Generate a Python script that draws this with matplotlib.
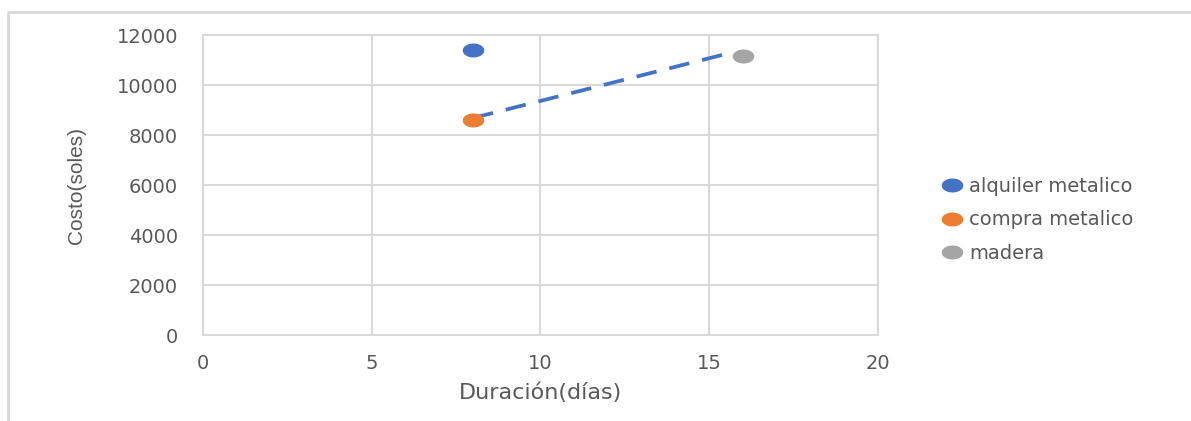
import matplotlib.pyplot as plt
from matplotlib.path import Path
from matplotlib.lines import Line2D
import numpy as np

# cost vs duration for each formwork option
series = ["alquiler metalico", "compra metalico", "madera"]
dias = [8, 8, 16]
costo = [11400, 8620, 11190]
colores = ["#4472C4", "#ED7D31", "#A5A5A5"]

# dashed line drawn between the purchase and wood options
linea_x = [8, 15.7]
linea_y = [8700, 11330]

# wide ellipse marker
t = np.linspace(0, 2 * np.pi, 60)
elipse = Path(np.column_stack([1.6 * np.cos(t), np.sin(t)]), closed=True)

gris_txt = "#595959"
gris_linea = "#D9D9D9"

fig = plt.figure(figsize=(11.91, 4.21), dpi=100)
ax = fig.add_axes([0.1704, 0.2031, 0.5668, 0.7126])

ax.plot(linea_x, linea_y, color="#4472C4", lw=2.7, ls=(0, (5.5, 3.5)), zorder=2)

for nombre, x, y, c in zip(series, dias, costo, colores):
    ax.plot([x], [y], ls="none", marker=elipse, ms=14.5, color=c,
            label=nombre, zorder=3)

ax.set_xlim(0, 20)
ax.set_ylim(0, 12000)
ax.set_xticks(range(0, 21, 5))
ax.set_yticks(range(0, 12001, 2000))
ax.grid(True, color=gris_linea, lw=1.5)
ax.set_axisbelow(True)
for s in ax.spines.values():
    s.set_color(gris_linea)
    s.set_linewidth(1.5)
ax.tick_params(length=0, colors=gris_txt, labelsize=14)
ax.tick_params(axis="y", pad=18)
ax.tick_params(axis="x", pad=13)
for lbl in ax.get_xticklabels() + ax.get_yticklabels():
    lbl.set_family("DejaVu Sans")

ax.set_xlabel("Duración(días)", fontsize=16, color=gris_txt, labelpad=7,
              family="DejaVu Sans")
ax.set_ylabel("Costo(soles)", fontsize=15, color=gris_txt, labelpad=22,
              family="Liberation Sans")

leg = ax.legend(loc="center left", bbox_to_anchor=(1.075, 0.385), frameon=False,
                handlelength=0.6, handletextpad=0.6, labelspacing=0.75,
                prop={"family": "DejaVu Sans", "size": 14})
for txt in leg.get_texts():
    txt.set_color(gris_txt)

# outer chart frame (top and left edges)
fig.add_artist(Line2D([8 / 1191, 8 / 1191, 1], [0, 1 - 12 / 421, 1 - 12 / 421],
                      transform=fig.transFigure, color=gris_linea, lw=2))

fig.savefig("out.png", dpi=100)
